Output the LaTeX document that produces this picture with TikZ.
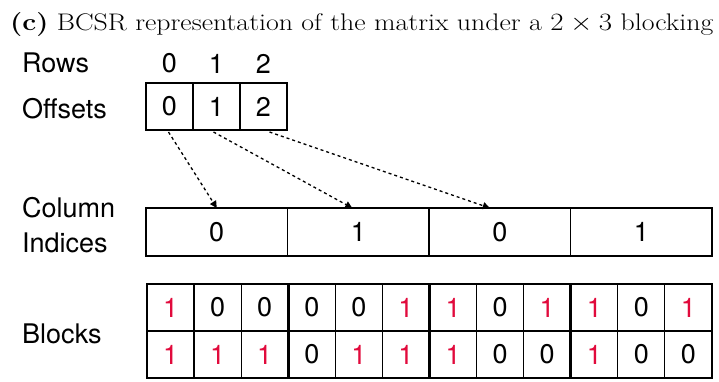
\documentclass[tikz,border=0pt]{standalone}
\usepackage{fontspec}
\newfontfamily\hv{TeX Gyre Heros}
\usetikzlibrary{arrows.meta,calc}
\definecolor{onered}{RGB}{225,10,60}
\tikzset{
  lbl/.style={anchor=base west,font=\hv\fontsize{27}{30}\selectfont,inner sep=0},
  cell/.style={draw,line width=1.2pt,inner sep=0,outer sep=0,font=\hv\fontsize{27}{30}\selectfont},
  ptr/.style={line width=1.3pt,dash pattern=on 3pt off 3pt,-{Triangle[width=7pt,length=7pt]}},
  thickline/.style={line width=2.8pt}
}
\begin{document}
\begin{tikzpicture}[x=1pt,y=-1pt]
\useasboundingbox (0,0) rectangle (719,381);
\node[anchor=base west,inner sep=0] (title) at (10,30) {\scalebox{1.16}[1]{\fontsize{24}{28}\selectfont\textbf{(c)} BCSR representation of the matrix under a $2\times 3$ blocking}};
% labels
\node[lbl] (rows) at (22,72) {Rows};
\node[lbl] (offs) at (22,118) {Offsets};
\node[lbl] (col) at (22,217) {Column};
\node[lbl] (ind) at (22,252) {Indices};
\node[lbl] (blk) at (22,343) {Blocks};
% rows and offsets
\foreach \i in {0,1,2}{
  \node[font=\hv\fontsize{27}{30}\selectfont,inner sep=0] (r\i) at (169.5+47*\i,63.5) {\i};
  \node[cell,minimum width=47pt,minimum height=47pt] (o\i) at (169.5+47*\i,106.5) {\i};
}
% column indices
\foreach \v [count=\k from 0] in {0,1,0,1}{
  \node[cell,minimum width=141.5pt,minimum height=48pt] (c\k) at (216.75+141.5*\k,232) {\v};
}
% blocks
\foreach \v [count=\k from 0] in {1,0,0,0,0,1,1,0,1,1,0,1}{
  \ifnum\v=1\def\cc{onered}\else\def\cc{black}\fi
  \node[cell,minimum width=47.08pt,minimum height=47pt,text=\cc] (ba\k) at (170.54+47.08*\k,307.5) {\v};
}
\foreach \v [count=\k from 0] in {1,1,1,0,1,1,1,0,0,1,0,0}{
  \ifnum\v=1\def\cc{onered}\else\def\cc{black}\fi
  \node[cell,minimum width=47.08pt,minimum height=47pt,text=\cc] (bb\k) at (170.54+47.08*\k,354.5) {\v};
}
\draw[thickline] (ba0.north west) rectangle (bb11.south east);
\draw[thickline] (ba3.north west) -- (bb3.south west);
\draw[thickline] (ba6.north west) -- (bb6.south west);
\draw[thickline] (ba9.north west) -- (bb9.south west);
% pointers
\draw[ptr] ([xshift=-1pt,yshift=-2pt]o0.south) -- ([xshift=0pt]c0.north);
\draw[ptr] ([xshift=-3pt,yshift=-2pt]o1.south) -- ([xshift=-6pt]c1.north);
\draw[ptr] ([xshift=6pt,yshift=-2pt]o2.south) -- ([xshift=-10pt]c2.north);
\end{tikzpicture}
\end{document}
